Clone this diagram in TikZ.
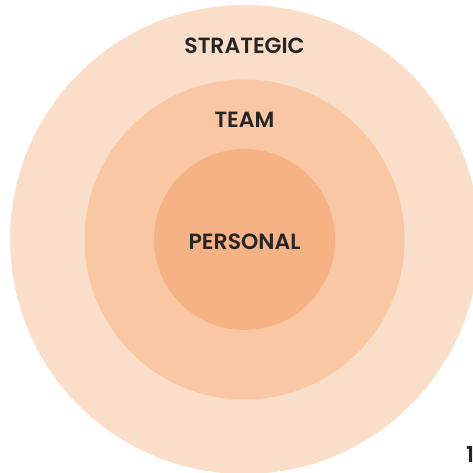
\documentclass[tikz,border=0pt]{standalone}
\usepackage{fontspec}
\setmainfont{Poppins}[BoldFont={Poppins SemiBold}]
\definecolor{ringout}{RGB}{251,222,201}
\definecolor{ringmid}{RGB}{249,199,164}
\definecolor{ringin}{RGB}{246,178,132}
\definecolor{lbl}{RGB}{38,36,36}
\begin{document}
\begin{tikzpicture}[x=1pt,y=-1pt,
  ring/.style={circle,inner sep=0pt,draw=none},
  lab/.style={font=\fontsize{22}{24}\selectfont\bfseries,text=lbl,inner sep=0pt,anchor=center}]
\useasboundingbox (0,0) rectangle (473,473);
\clip (0,0) rectangle (473,473);
\node[ring,fill=ringout,minimum size=469pt] (outer) at (244.5,239.5) {};
\node[ring,fill=ringmid,minimum size=320pt] (mid) at (244.5,239.5) {};
\node[ring,fill=ringin,minimum size=181pt] (inner) at (244.5,239.5) {};
\node[lab] (strategic) at (244.5,45.5) {STRATEGIC};
\node[lab] (team) at (244.5,119.7) {TEAM};
\node[lab] (personal) at (244.5,242) {PERSONAL};
\node[lab,anchor=west] (one) at (466,454) {1};
\end{tikzpicture}
\end{document}
